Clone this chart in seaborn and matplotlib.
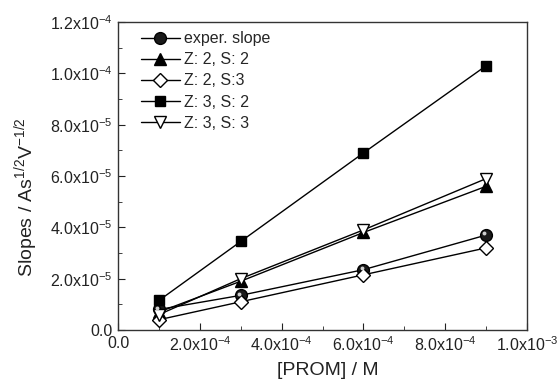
import math
import matplotlib
matplotlib.use("Agg")
import matplotlib.pyplot as plt
import matplotlib.transforms as mtransforms
import seaborn as sns
import pandas as pd
from matplotlib.ticker import MultipleLocator, FuncFormatter

prom = [1e-4, 3e-4, 6e-4, 9e-4]
exper = [0.80e-5, 1.35e-5, 2.35e-5, 3.70e-5]
z2s2 = [0.70e-5, 1.90e-5, 3.80e-5, 5.60e-5]
z2s3 = [0.40e-5, 1.10e-5, 2.15e-5, 3.20e-5]
z3s2 = [1.15e-5, 3.45e-5, 6.90e-5, 10.30e-5]
z3s3 = [0.60e-5, 2.00e-5, 3.90e-5, 5.90e-5]
labels = ["exper. slope", "Z: 2, S: 2", "Z: 2, S:3", "Z: 3, S: 2", "Z: 3, S: 3"]

sns.set_style("ticks")
plt.rcParams['font.family'] = ['Liberation Sans', 'DejaVu Sans']
plt.rcParams['mathtext.fontset'] = 'custom'
plt.rcParams['mathtext.rm'] = 'Liberation Sans'
plt.rcParams['mathtext.it'] = 'Liberation Sans'

fig = plt.figure(figsize=(5.58, 3.88), dpi=100)
ax = fig.add_axes([0.2115, 0.1495, 0.733, 0.7935])

series = [exper, z2s2, z2s3, z3s2, z3s3]
styles = [
    dict(marker='o', mfc='#1a1a1a', mec='black', ms=8.5),
    dict(marker='^', mfc='black', mec='black', ms=8),
    dict(marker='D', mfc='white', mec='black', ms=7),
    dict(marker='s', mfc='black', mec='black', ms=7.2),
    dict(marker='v', mfc='white', mec='black', ms=9),
]
for vals, lab, st in zip(series, labels, styles):
    df = pd.DataFrame({"x": prom, "y": vals})
    sns.lineplot(data=df, x="x", y="y", ax=ax, color='black', lw=1,
                 marker=st['marker'], markerfacecolor=st['mfc'],
                 markeredgecolor=st['mec'], markersize=st['ms'],
                 markeredgewidth=1, label=lab)

# sphere highlight on experimental points
hl = mtransforms.offset_copy(ax.transData, fig=fig, x=-1.3, y=1.3, units='points')
ax.plot(prom, exper, ls='none', marker='o', ms=2.8, mfc='#d0d0d0', mec='none',
        transform=hl, zorder=5)

ax.set_xlim(0, 1e-3)
ax.set_ylim(0, 1.2e-4)
ax.xaxis.set_major_locator(MultipleLocator(2e-4))
ax.xaxis.set_minor_locator(MultipleLocator(1e-4))
ax.yaxis.set_major_locator(MultipleLocator(2e-5))
ax.yaxis.set_minor_locator(MultipleLocator(1e-5))

def fmt(v, pos):
    if abs(v) < 1e-12:
        return "0.0"
    e = int(math.floor(math.log10(abs(v)) + 1e-9))
    m = v / 10**e
    return f"{m:.1f}x10$^{{{e}}}$"

ax.xaxis.set_major_formatter(FuncFormatter(fmt))
ax.yaxis.set_major_formatter(FuncFormatter(fmt))
ax.tick_params(which='both', direction='in', top=False, right=False,
               labelsize=11.5, colors='#222222')
ax.tick_params(which='major', length=5, pad=4)
ax.tick_params(which='minor', length=3)
for s in ax.spines.values():
    s.set_linewidth(1)
    s.set_color('#333333')

ax.set_xlabel("[PROM] / M", fontsize=14, color='#222222')
ax.set_ylabel("Slopes / As$^{1/2}$V$^{-1/2}$", fontsize=14, color='#222222')
ax.xaxis.set_label_coords(0.512, -0.105)
ax.yaxis.set_label_coords(-0.19, 0.43)

leg = ax.legend(loc='upper left', bbox_to_anchor=(0.057, 0.97), frameon=False,
                fontsize=11.5, handlelength=2.4, labelspacing=0.38,
                borderaxespad=0, borderpad=0, handletextpad=0.3)

fig.savefig("out.png", dpi=100)
